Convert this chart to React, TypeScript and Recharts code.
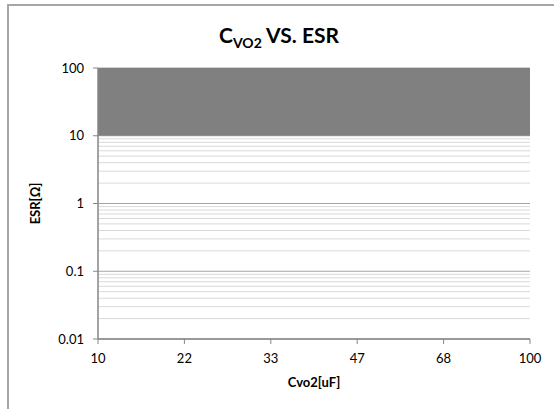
import {Area, CartesianGrid, ComposedChart, ReferenceLine, XAxis, YAxis} from 'recharts';

// Cvo2 capacitance categories and the allowed ESR band (shaded)
const CATEGORIES = ['10', '22', '33', '47', '68', '100'];
const ESR_LOW = [10, 10, 10, 10, 10, 10];
const ESR_HIGH = [100, 100, 100, 100, 100, 100];

// log axis ticks
const Y_TICKS = [0.01, 0.1, 1, 10, 100];
const MINOR_STEPS = [2, 3, 4, 5, 6, 7, 8, 9];

const data = CATEGORIES.map((cap, i) => ({cap, band: [ESR_LOW[i], ESR_HIGH[i]]}));
// minor gridlines; the top decade sits under the shaded band so it is left out
const minorLines = Y_TICKS.slice(0, -2).flatMap((d) => MINOR_STEPS.map((m) => Number((d * m).toPrecision(3))));

const FONT = 'Lato, "Open Sans", sans-serif';
const AXIS = '#868686';

export default function App() {
  return (
    <div style={{position: 'absolute', left: 0, top: 0, width: 554, height: 409, overflow: 'hidden', background: '#fff', fontFamily: FONT}}>
      <div style={{position: 'absolute', left: 7, top: 4, width: 600, height: 460, border: '2px solid #a6a6a6', boxSizing: 'border-box'}} />
      <div style={{position: 'absolute', left: 0, top: 23, width: 558, textAlign: 'center', fontSize: 21, fontWeight: 700, lineHeight: '24px', color: '#000'}}>
        C<sub style={{fontSize: 14, verticalAlign: '-5px'}}>VO2</sub> VS. ESR
      </div>
      <div style={{position: 'absolute', left: 0, top: 0}}>
        <ComposedChart width={554} height={409} data={data} margin={{top: 68, right: 24, bottom: 20, left: 38}}>
          <CartesianGrid vertical={false} stroke="#a6a6a6" horizontalValues={Y_TICKS} />
          {minorLines.map((v) => (
            <ReferenceLine key={v} y={v} stroke="#d9d9d9" strokeWidth={1} />
          ))}
          <XAxis
            dataKey="cap"
            scale="point"
            padding={{left: 0, right: 0}}
            height={50}
            tickSize={5}
            tickMargin={10}
            axisLine={{stroke: AXIS, strokeWidth: 1.5}}
            tickLine={{stroke: AXIS}}
            tick={{fill: '#000', fontSize: 13, fontFamily: FONT}}
            label={{
              content: ({viewBox}: any) => (
                <text x={viewBox.x + viewBox.width / 2} y={viewBox.y + 43} textAnchor="middle" dominantBaseline="central" fontSize={13} fontWeight={700} fontFamily={FONT} fill="#000">
                  Cvo2[uF]
                </text>
              ),
            }}
          />
          <YAxis
            scale="log"
            type="number"
            domain={[0.01, 100]}
            ticks={Y_TICKS}
            allowDataOverflow
            width={60}
            tickSize={5}
            tickMargin={9}
            tickFormatter={(v: number) => String(v)}
            axisLine={{stroke: AXIS, strokeWidth: 1.5}}
            tickLine={{stroke: AXIS}}
            tick={{fill: '#000', fontSize: 13, fontFamily: FONT}}
            label={{
              content: ({viewBox}: any) => {
                const x = viewBox.x - 3;
                const y = viewBox.y + viewBox.height / 2;
                return (
                  <text x={x} y={y} transform={`rotate(-90, ${x}, ${y})`} textAnchor="middle" dominantBaseline="central" fontSize={13} fontWeight={700} fontFamily={FONT} fill="#000">
                    ESR[Ω]
                  </text>
                );
              },
            }}
          />
          <Area dataKey="band" type="linear" fill="#808080" fillOpacity={1} stroke="none" isAnimationActive={false} />
        </ComposedChart>
      </div>
    </div>
  );
}
